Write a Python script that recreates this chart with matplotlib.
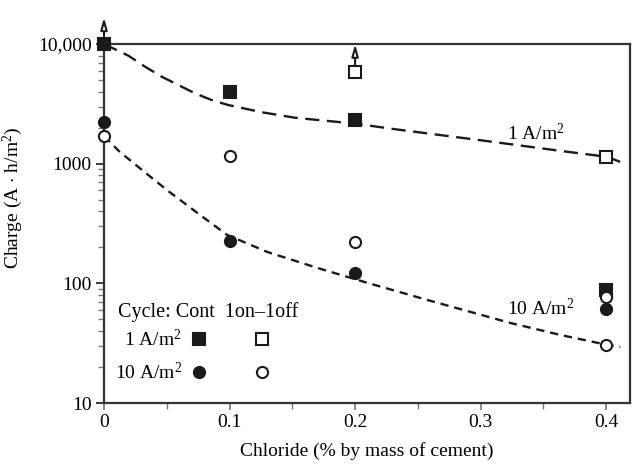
#!/usr/bin/env python

import numpy as np
import matplotlib
matplotlib.use("Agg")
import matplotlib.pyplot as plt
from matplotlib.ticker import FixedLocator, NullFormatter

plt.rcParams['font.family'] = ['Liberation Serif', 'DejaVu Serif']
plt.rcParams['mathtext.fontset'] = 'custom'
plt.rcParams['mathtext.rm'] = 'Liberation Serif'
plt.rcParams['mathtext.it'] = 'Liberation Serif:italic'

chloride = [0.0, 0.1, 0.2, 0.4]
cont_1A = [10000, 4000, 2300, 88]
cyc_1A_x = [0.2, 0.4]
cyc_1A = [5800, 1140]
cont_10A = [2250, 226, 123, 61]
cyc_10A = [1700, 1170, 220, 77]
cyc_10A_extra_x = [0.4]
cyc_10A_extra = [30.5]

# trend lines (dashed)
fit_1A_x = [0.0, 0.0194, 0.0327, 0.046, 0.0592, 0.0725, 0.0858, 0.099,
            0.1257, 0.152, 0.2, 0.2303, 0.31, 0.3633, 0.4008, 0.4112]
fit_1A_y = [10000, 7990, 6460, 5330, 4540, 3870, 3400, 3090,
            2690, 2420, 2160, 1950, 1520, 1280, 1140, 1035]
fit_10A_x = [0.0, 0.0127, 0.05, 0.0765, 0.098, 0.13, 0.17, 0.21,
             0.2574, 0.3235, 0.3633, 0.4008, 0.4112]
fit_10A_y = [1700, 1250, 603, 373, 254, 183, 134.5, 100.8,
             72.7, 46.7, 37.1, 30.6, 29.4]

ytick_vals = [10, 100, 1000, 10000]
ytick_labels = ['10', '100', '1000', '10,000']
xtick_vals = [0, 0.1, 0.2, 0.3, 0.4]
xtick_labels = ['0', '0.1', '0.2', '0.3', '0.4']

fs = 14
ink = '#1a1a1a'

fig = plt.figure(figsize=(6.33, 4.69), dpi=100)
ax = fig.add_axes([0.1643, 0.1407, 0.8310, 0.7655])
ax.set_yscale('log')
ax.set_xlim(0, 0.419)
ax.set_ylim(10, 10000)

ax.plot(fit_1A_x, fit_1A_y, color=ink, lw=1.7, dashes=(6, 3.2), zorder=2)
ax.plot(fit_10A_x, fit_10A_y, color=ink, lw=1.7, dashes=(3.5, 2.5), zorder=2)

sq = dict(marker='s', ms=8.5, ls='none', mec=ink, mew=1.5, clip_on=False, zorder=4)
ci = dict(marker='o', ms=8, ls='none', mec=ink, mew=1.5, clip_on=False, zorder=4)
ax.plot(chloride, cont_1A, mfc=ink, **sq)
ax.plot(cyc_1A_x, cyc_1A, mfc='white', **sq)
ax.plot(chloride, cont_10A, mfc=ink, **ci)
ax.plot(chloride, cyc_10A, mfc='white', **ci)
ax.plot(cyc_10A_extra_x, cyc_10A_extra, mfc='white', **ci)

# arrows: value off scale
arr = dict(arrowstyle='-|>,head_length=0.7,head_width=0.2', color=ink, lw=1.5, fc='white')
ax.annotate('', xy=(0, 17500), xytext=(0, 10000), arrowprops=arr,
            annotation_clip=False, zorder=5)
ax.annotate('', xy=(0.2, 10500), xytext=(0.2, 6300), arrowprops=arr,
            annotation_clip=False, zorder=5)

ax.text(0.321, 1800, r'1 A/m$^2$', fontsize=fs, ha='left', va='center')
ax.text(0.3211, 62, r'10 A/m$^2$', fontsize=fs, ha='left', va='center')

# hand-made key
ax.text(0.027, 0.253, 'Cycle: Cont  1on\u20131off', transform=ax.transAxes,
        fontsize=fs + 0.5, ha='left', va='center')
ax.text(0.148, 0.178, r'1 A/m$^2$', transform=ax.transAxes, fontsize=fs,
        ha='right', va='center')
ax.text(0.148, 0.086, r'10 A/m$^2$', transform=ax.transAxes, fontsize=fs,
        ha='right', va='center')
ax.plot([0.181], [0.178], transform=ax.transAxes, mfc=ink, **sq)
ax.plot([0.300], [0.178], transform=ax.transAxes, mfc='white', **sq)
ax.plot([0.181], [0.086], transform=ax.transAxes, mfc=ink, **ci)
ax.plot([0.300], [0.086], transform=ax.transAxes, mfc='white', **ci)

ax.set_yticks(ytick_vals)
ax.set_yticklabels(ytick_labels)
ax.yaxis.set_minor_locator(FixedLocator(
    [m * 10 ** e for e in range(1, 4) for m in range(2, 10)]))
ax.yaxis.set_minor_formatter(NullFormatter())
ax.set_xticks(xtick_vals)
ax.set_xticklabels(xtick_labels)
ax.set_xticks([0.05, 0.15, 0.25, 0.35], minor=True)

ax.tick_params(axis='both', which='major', labelsize=fs, direction='out',
               length=6, width=1.2, color=ink, pad=3)
ax.tick_params(axis='both', which='minor', direction='out', length=4,
               width=1.0, color='#777777')
ax.tick_params(axis='x', which='major', length=5, color='#777777')

for s in ax.spines.values():
    s.set_linewidth(1.6)
    s.set_color('#333333')

ax.set_xlabel('Chloride (% by mass of cement)', fontsize=fs, labelpad=8)
ax.set_ylabel(r'Charge (A $\cdot$ h/m$^2$)', fontsize=fs)
ax.yaxis.set_label_coords(-0.150, 0.571)

fig.savefig('out.png', dpi=100)
